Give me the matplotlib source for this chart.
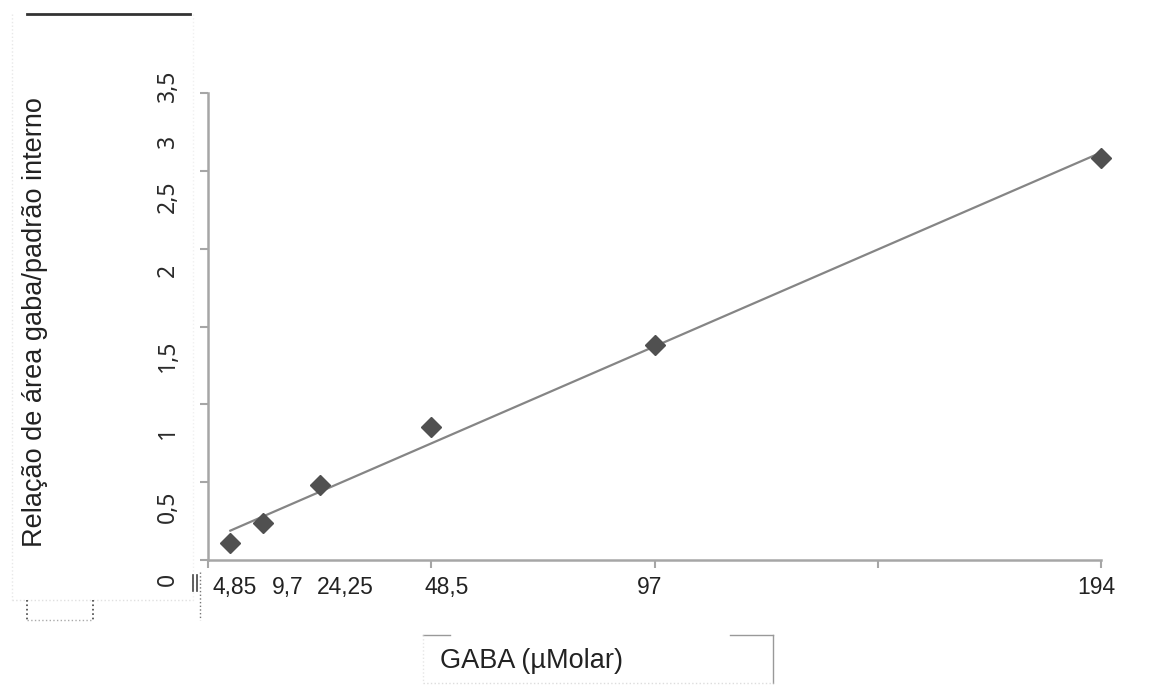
import matplotlib.pyplot as plt
import numpy as np
from matplotlib.lines import Line2D

# GABA calibration curve: concentration vs area ratio
conc = [4.85, 12.0, 24.25, 48.5, 97, 194]
ratio = [0.107, 0.235, 0.481, 0.854, 1.383, 2.585]

xlabels = ['4,85', '9,7', '24,25', '48,5', '97', '194']
ylabels = ['0', '0,5', '1', '1,5', '2', '2,5', '3', '3,5']

# where the labels sit in the original (they are shifted from the tick marks)
xlabel_pos = [5.9, 17.3, 29.8, 51.9, 96.0, 192.9]
ylabel_pos = [-0.128, 0.340, 0.821, 1.314, 1.859, 2.333, 2.692, 3.045]

W, H = 1176, 693
fig = plt.figure(figsize=(W / 100, H / 100), dpi=100)
ax = fig.add_axes([208 / W, 1 - 560 / H, (1101 - 208) / W, (560 - 93) / H])
ax.set_xlim(0, 194)
ax.set_ylim(0, 3)

axis_col = '#a6a6a6'
for s in ['top', 'right']:
    ax.spines[s].set_visible(False)
for s in ['left', 'bottom']:
    ax.spines[s].set_color(axis_col)
    ax.spines[s].set_linewidth(1.8)

ax.set_xticks(np.arange(0, 194.1, 48.5))
ax.set_yticks(np.arange(0, 3.01, 0.5))
ax.set_xticklabels([])
ax.set_yticklabels([])
ax.tick_params(length=6, width=1.5, color=axis_col, direction='out')

for p, s in zip(xlabel_pos, xlabels):
    ax.annotate(s, xy=(p, 0), xycoords=ax.get_xaxis_transform(), xytext=(0, -19.5),
                textcoords='offset points', ha='center', va='center',
                fontsize=16.5, family='Liberation Sans', color='#222222')

for p, s in zip(ylabel_pos, ylabels):
    ax.annotate(s, xy=(0, p), xycoords=ax.get_yaxis_transform(), xytext=(-29, 0),
                textcoords='offset points', ha='center', va='center', rotation=90,
                fontsize=16.5, family='Noto Sans', color='#2a2a2a')

# linear fit
coef = np.polyfit(conc, ratio, 1)
xs = np.array([conc[0], conc[-1]])
ax.plot(xs, np.polyval(coef, xs), color='#858585', lw=1.6, zorder=2)
ax.plot(conc, ratio, 'D', color='#505050', markersize=10, clip_on=False, zorder=3)

fig.text(35 / W, 1 - 322 / H, 'Relação de área gaba/padrão interno', rotation=90,
         ha='center', va='center', fontsize=19.5, family='Liberation Sans', color='#222222')
fig.text(531 / W, 1 - 661 / H, 'GABA (µMolar)', ha='center', va='center',
         fontsize=19.5, family='Liberation Sans', color='#222222')


def seg(x0, y0, x1, y1, **kw):
    fig.add_artist(Line2D([x0 / W, x1 / W], [1 - y0 / H, 1 - y1 / H],
                          transform=fig.transFigure, **kw))


# leftover frame bits from the original document
seg(27, 14, 190, 14, color='#333333', lw=2)
seg(12, 14, 12, 600, color='#e8e8e8', lw=1, ls=':')
seg(193, 14, 193, 600, color='#f0f0f0', lw=1, ls=':')
seg(12, 600, 193, 600, color='#e0e0e0', lw=1, ls=':')
seg(27, 600, 27, 620, color='#444444', lw=1.2, ls=':')
seg(93, 600, 93, 620, color='#444444', lw=1.2, ls=':')
seg(27, 620, 93, 620, color='#aaaaaa', lw=1, ls=':')
seg(193, 575, 193, 591, color='#444444', lw=1.2)
seg(197, 575, 197, 591, color='#444444', lw=1.2)
seg(200, 572, 200, 620, color='#777777', lw=1, ls=':')
seg(423, 635, 450, 635, color='#999999', lw=1)
seg(730, 635, 773, 635, color='#999999', lw=1)
seg(773, 635, 773, 683, color='#999999', lw=1)
seg(423, 635, 423, 683, color='#e6e6e6', lw=1, ls=':')
seg(423, 683, 773, 683, color='#dddddd', lw=1, ls=':')

fig.savefig('out.png', dpi=100)
